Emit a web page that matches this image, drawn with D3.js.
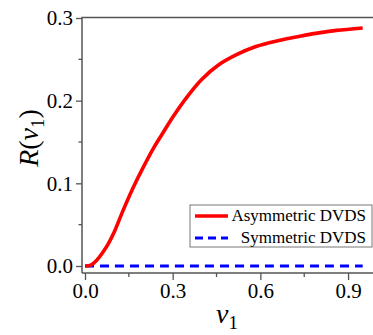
<!DOCTYPE html>
<html>
<head>
<meta charset="utf-8">
<script src="https://cdn.jsdelivr.net/npm/d3@7"></script>
</head>
<body style="margin:0;background:#fff">
<script>
// data
var v1 = [0, 0.02, 0.04, 0.06, 0.08, 0.10, 0.13, 0.165, 0.20, 0.235, 0.27, 0.30, 0.35, 0.40, 0.46, 0.52, 0.58, 0.63, 0.69, 0.75, 0.80, 0.86, 0.95];
var asym = [0, 0.001, 0.007, 0.016, 0.027, 0.041, 0.067, 0.095, 0.120, 0.143, 0.163, 0.180, 0.205, 0.226, 0.244, 0.256, 0.265, 0.270, 0.275, 0.279, 0.282, 0.285, 0.288];
var sym = v1.map(function() { return 0; });
var xTicks = [0, 0.3, 0.6, 0.9];
var xMinor = [0.15, 0.45, 0.75];
var yTicks = [0, 0.1, 0.2, 0.3];
var yMinor = [0.05, 0.15, 0.25];
var seriesNames = ["Asymmetric DVDS", "Symmetric DVDS"];

var W = 373, H = 335;
var serif = "'Liberation Serif'";
var svg = d3.select("body").append("svg")
	.attr("width", W)
	.attr("height", H)
	.style("display", "block");

var x = d3.scaleLinear().domain([0, 1]).range([85, 377.3]);
var y = d3.scaleLinear().domain([0, 0.3]).range([266, 18]);

var axisCol = "#555";
var fmt = d3.format(".1f");

// left axis
var gy = svg.append("g").attr("transform", "translate(82,0)");
gy.call(d3.axisLeft(y).tickValues(yTicks).tickFormat(fmt).tickSize(6).tickPadding(3));
gy.select(".domain").remove();
gy.selectAll(".tick line").attr("stroke", axisCol).attr("stroke-width", 1.3);
gy.selectAll(".tick text").style("font-family", serif).style("font-size", "21px").attr("fill", "#000");
gy.selectAll(".minor").data(yMinor).enter().append("line")
	.attr("x1", -3.5).attr("x2", 0)
	.attr("y1", function(d) { return y(d); }).attr("y2", function(d) { return y(d); })
	.attr("stroke", axisCol).attr("stroke-width", 1.3);

// bottom axis
var gx = svg.append("g").attr("transform", "translate(0,273)");
gx.call(d3.axisBottom(x).tickValues(xTicks).tickFormat(fmt).tickSize(7).tickPadding(3));
gx.select(".domain").remove();
gx.selectAll(".tick line").attr("stroke", axisCol).attr("stroke-width", 1.3);
gx.selectAll(".tick text").style("font-family", serif).style("font-size", "21px").attr("fill", "#000");
gx.selectAll(".minor").data(xMinor).enter().append("line")
	.attr("x1", function(d) { return x(d); }).attr("x2", function(d) { return x(d); })
	.attr("y1", 0).attr("y2", 4)
	.attr("stroke", axisCol).attr("stroke-width", 1.3);

// frame lines
svg.append("path")
	.attr("d", "M82,273V17.5H373M82,273H373")
	.attr("fill", "none")
	.attr("stroke", axisCol)
	.attr("stroke-width", 1.5);

var line = d3.line()
	.x(function(d) { return x(d[0]); })
	.y(function(d) { return y(d[1]); })
	.curve(d3.curveCatmullRom);

svg.append("path")
	.datum(d3.zip(v1, sym))
	.attr("d", line)
	.attr("fill", "none")
	.attr("stroke", "#0000ff")
	.attr("stroke-width", 3.2)
	.attr("stroke-dasharray", "9,6");

svg.append("path")
	.datum(d3.zip(v1, asym))
	.attr("d", line)
	.attr("fill", "none")
	.attr("stroke", "#ff0000")
	.attr("stroke-width", 3.6);

// legend
var lg = svg.append("g");
lg.append("rect")
	.attr("x", 190).attr("y", 205).attr("width", 182).attr("height", 42)
	.attr("fill", "#fff").attr("stroke", "#777").attr("stroke-width", 1);
lg.append("line").attr("x1", 195).attr("x2", 228).attr("y1", 216).attr("y2", 216)
	.attr("stroke", "#ff0000").attr("stroke-width", 3.6);
lg.append("line").attr("x1", 195).attr("x2", 228).attr("y1", 238).attr("y2", 238)
	.attr("stroke", "#0000ff").attr("stroke-width", 3.2).attr("stroke-dasharray", "8,5");
lg.selectAll("text").data(seriesNames).enter().append("text")
	.attr("x", 366)
	.attr("y", function(d, i) { return 221 + i * 22; })
	.attr("text-anchor", "end")
	.style("font-family", serif)
	.style("font-size", "17px")
	.text(function(d) { return d; });

// axis titles
var xt = svg.append("text")
	.attr("x", 227).attr("y", 323)
	.attr("text-anchor", "middle")
	.style("font-family", serif)
	.style("font-size", "28px");
xt.append("tspan").style("font-style", "italic").text("v");
xt.append("tspan").style("font-size", "19px").attr("dy", 6).text("1");

var yt = svg.append("text")
	.attr("transform", "translate(38,138) rotate(-90)")
	.attr("text-anchor", "middle")
	.style("font-family", serif)
	.style("font-size", "28px");
yt.append("tspan").style("font-style", "italic").text("R");
yt.append("tspan").text("(");
yt.append("tspan").style("font-style", "italic").text("v");
yt.append("tspan").style("font-size", "19px").attr("dy", 6).text("1");
yt.append("tspan").attr("dy", -6).text(")");
</script>
</body>
</html>
